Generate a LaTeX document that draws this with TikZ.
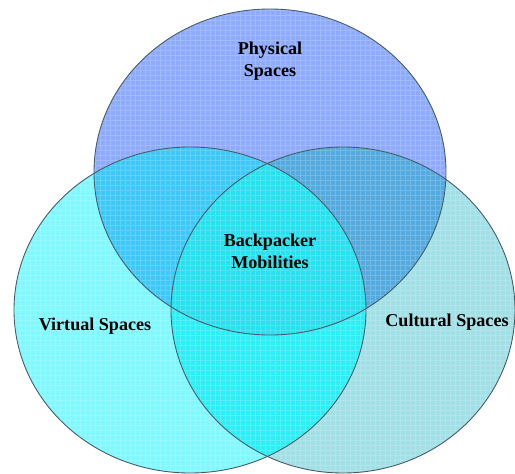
\documentclass[tikz,border=0pt]{standalone}
\usepackage{fontspec}
\setmainfont{Liberation Serif}
\usetikzlibrary{positioning}

\definecolor{physfill}{RGB}{142,170,252}
\definecolor{virtfill}{RGB}{128,248,254}
\definecolor{cultfill}{RGB}{160,224,230}
\definecolor{pvfill}{RGB}{62,200,248}
\definecolor{pcfill}{RGB}{84,170,222}
\definecolor{vcfill}{RGB}{44,238,244}
\definecolor{allfill}{RGB}{40,224,238}
\definecolor{rim}{RGB}{70,90,100}

\def\physpath{(270,-172) ellipse [x radius=176, y radius=163]}
\def\virtpath{(190,-310) ellipse [x radius=176, y radius=163]}
\def\cultpath{(343,-310) ellipse [x radius=172, y radius=163]}

\begin{document}
\begin{tikzpicture}[
  x=0.02cm, y=0.02cm,
  lab/.style={font=\fontsize{10.3}{12.5}\selectfont\bfseries, align=center, inner sep=1pt},
  rimline/.style={draw=rim, line width=0.5pt},
]
\useasboundingbox (0,0) rectangle (515,-474);

% the three spaces
\fill[physfill] \physpath;
\fill[virtfill] \virtpath;
\fill[cultfill] \cultpath;

% pairwise overlaps
\begin{scope}
  \clip \physpath;
  \fill[pvfill] \virtpath;
  \fill[pcfill] \cultpath;
\end{scope}
\begin{scope}
  \clip \virtpath;
  \fill[vcfill] \cultpath;
\end{scope}
\begin{scope}
  \clip \physpath;
  \clip \virtpath;
  \fill[allfill] \cultpath;
\end{scope}

% faint grid texture
\begin{scope}
  \clip \physpath \virtpath \cultpath;
  \draw[white, opacity=0.18, line width=0.3pt] (0,-474) grid[step=5] (515,0);
\end{scope}

\draw[rimline] \physpath;
\draw[rimline] \virtpath;
\draw[rimline] \cultpath;

\node[lab] (phys) at (270,-61)  {Physical\\Spaces};
\node[lab] (core) at (270,-251) {Backpacker\\Mobilities};
\node[lab] (virt) at (95,-326)  {Virtual Spaces};
\node[lab] (cult) at (447,-322) {Cultural Spaces};
\end{tikzpicture}
\end{document}
